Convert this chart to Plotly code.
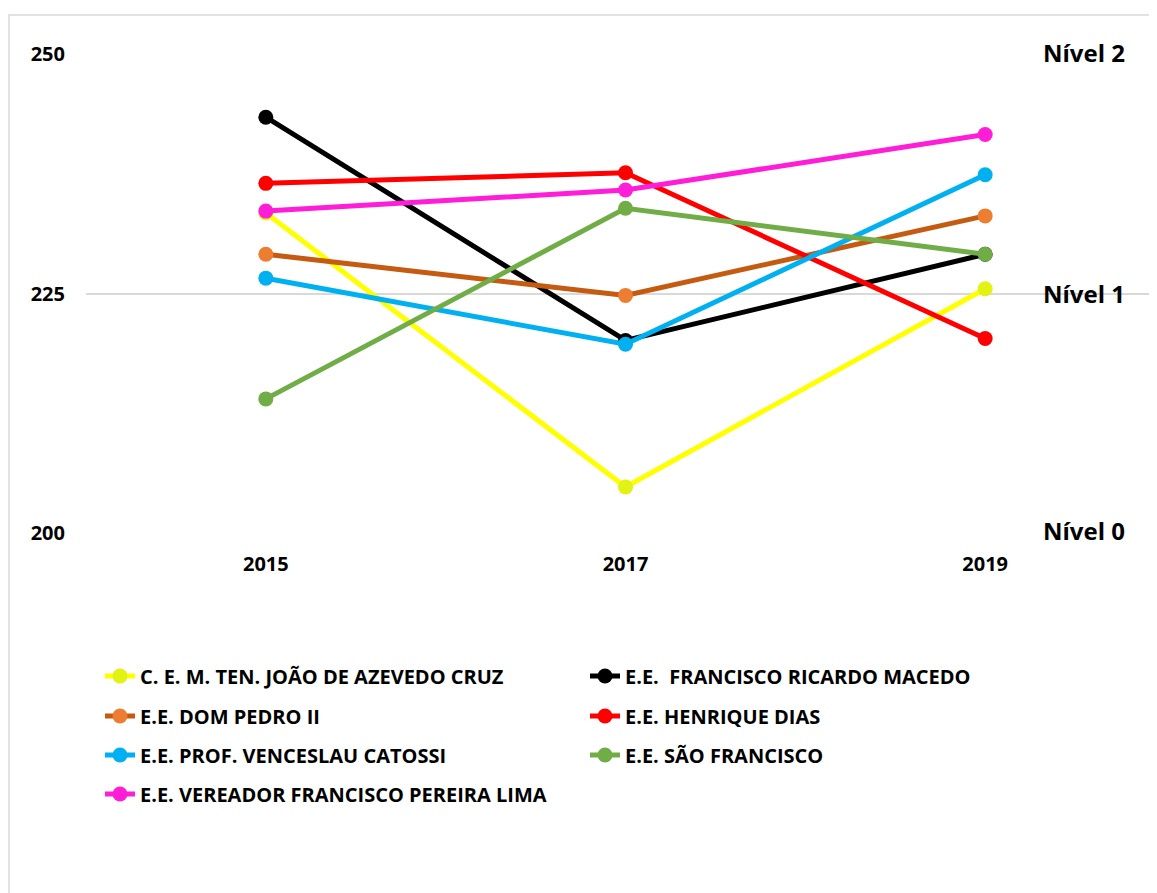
import plotly.graph_objects as go

years = ["2015", "2017", "2019"]
names = [
    "C. E. M. TEN. JOÃO DE AZEVEDO CRUZ",
    "E.E.  FRANCISCO RICARDO MACEDO",
    "E.E. DOM PEDRO II",
    "E.E. HENRIQUE DIAS",
    "E.E. PROF. VENCESLAU CATOSSI",
    "E.E. SÃO FRANCISCO",
    "E.E. VEREADOR FRANCISCO PEREIRA LIMA",
]
joao_cruz = [233.4, 204.8, 225.5]
ricardo_macedo = [243.4, 220.1, 229.1]
dom_pedro = [229.1, 224.8, 233.1]
henrique_dias = [236.5, 237.6, 220.3]
catossi = [226.6, 219.7, 237.4]
sao_francisco = [214.0, 233.9, 229.1]
pereira_lima = [233.6, 235.8, 241.6]
series = [joao_cruz, ricardo_macedo, dom_pedro, henrique_dias, catossi, sao_francisco, pereira_lima]

line_colors = ["#FFFF00", "#000000", "#C55A11", "#FF0000", "#00B0F0", "#70AD47", "#FF1DD8"]
marker_colors = ["#E2F212", "#000000", "#ED7D31", "#FF0000", "#00B0F0", "#70AD47", "#FF1DD8"]
legend_ids = ["legend", "legend", "legend2", "legend2", "legend3", "legend3", "legend4"]

level_labels = ["Nível 2", "Nível 1", "Nível 0"]
level_values = [250, 225, 200]

FONT = "Open Sans"

# plot area in screen pixels (page has an 8px body offset)
PX_L, PX_T, PX_B = 86, 54, 533
PW = 1079
PH = PX_B - PX_T


def px_x(px):
    return (px - PX_L) / PW


def px_y(py):
    return (PX_B - py) / PH


fig = go.Figure()
for name, vals, lc, mc, lg in zip(names, series, line_colors, marker_colors, legend_ids):
    fig.add_trace(go.Scatter(
        x=years, y=vals, name=name, mode="lines+markers",
        line=dict(color=lc, width=5),
        marker=dict(color=mc, size=15),
        legend=lg, cliponaxis=False,
    ))

for lab, v in zip(level_labels, level_values):
    fig.add_annotation(
        x=2.155, y=v, xref="x", yref="y", text=f"<b>{lab}</b>",
        showarrow=False, xanchor="left", yanchor="middle",
        yshift=3 if v == 200 else (2 if v == 250 else 0),
        font=dict(family=FONT, size=24, color="#000000"),
    )

# chart border
fig.add_shape(type="rect", xref="paper", yref="paper",
              x0=px_x(9), x1=px_x(1180), y0=px_y(910), y1=px_y(15),
              line=dict(color="#D9D9D9", width=1.5), layer="below")

leg_common = dict(orientation="h", entrywidth=440, entrywidthmode="pixels",
                  font=dict(family=FONT, size=20, color="#000000", weight="bold"),
                  xanchor="left", yanchor="middle", bgcolor="rgba(0,0,0,0)",
                  itemclick=False)
row_y = [676, 716, 755, 794]
x_leg = px_x(100)
fig.update_layout(
    width=1157, height=893,
    margin=dict(l=78, r=0, t=46, b=893 - (PX_B - 8)),
    paper_bgcolor="white", plot_bgcolor="white",
    font=dict(family=FONT, size=18, color="#000000"),
    showlegend=True,
    legend=dict(x=x_leg, y=px_y(row_y[0]), **leg_common),
    legend2=dict(x=x_leg, y=px_y(row_y[1]), **leg_common),
    legend3=dict(x=x_leg, y=px_y(row_y[2]), **leg_common),
    legend4=dict(x=x_leg, y=px_y(row_y[3]), **leg_common),
    xaxis=dict(type="category", range=[-0.5, 2.5],
               showgrid=False, showline=False, zeroline=False, ticks="",
               tickfont=dict(family=FONT, size=20, color="#000000", weight="bold"),
               ticklabelstandoff=17),
    yaxis=dict(range=[200, 250], tickvals=[200, 225, 250],
               showgrid=True, gridcolor="#D9D9D9", gridwidth=1.5,
               showline=False, zeroline=False, ticks="",
               tickfont=dict(family=FONT, size=20, color="#000000", weight="bold"),
               ticklabelstandoff=20),
)

fig.write_html("out.html")
